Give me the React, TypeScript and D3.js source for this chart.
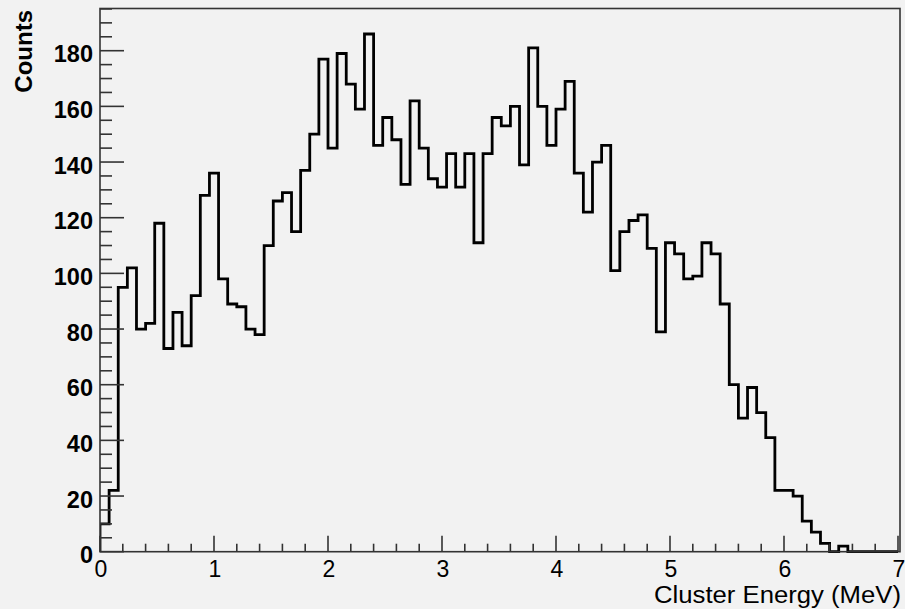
import React from "react";
import * as d3 from "d3";

// ---- data ----
const binWidth = 0.08; // MeV
const counts = [
  10, 22, 95, 102, 80, 82, 118, 73, 86, 74,
  92, 128, 136, 98, 89, 88, 80, 78, 110, 126,
  129, 115, 137, 150, 177, 145, 179, 168, 159, 186,
  146, 156, 148, 132, 162, 145, 134, 131, 143, 131,
  143, 111, 143, 156, 153, 160, 139, 181, 160, 146,
  159, 169, 136, 122, 140, 146, 101, 115, 119, 121,
  109, 79, 111, 107, 98, 99, 111, 107, 89, 60,
  48, 59, 50, 41, 22, 22, 20, 11, 7, 3,
  0, 2, 0, 0, 0, 0, 0, 0,
];
const xMajorTicks = [0, 1, 2, 3, 4, 5, 6, 7];
const yMajorTicks = [0, 20, 40, 60, 80, 100, 120, 140, 160, 180];
const xTitle = "Cluster Energy (MeV)";
const yTitle = "Counts";

const W = 905;
const H = 609;
const FONT = "'Liberation Sans', Arial, Helvetica, sans-serif";

export default function App() {
  const x = d3.scaleLinear().domain([0, 7]).range([100, 898]);
  const y = d3.scaleLinear().domain([0, 180]).range([551.7, 50.7]);
  const yTop = y.invert(8.5);
  const frameL = x(0);
  const frameR = 900;
  const frameT = y(yTop);
  const frameB = y(0);

  const xMinor = d3.range(0, 7.0001, 0.2).filter((v) => Math.abs(v - Math.round(v)) > 1e-6);
  const yMinor = d3.range(0, yTop, 5).filter((v) => v % 20 !== 0);

  // step outline points
  const pts: [number, number][] = [[0, 0]];
  counts.forEach((c, i) => {
    const x0 = i * binWidth;
    pts.push([x0, c]);
    pts.push([Math.min((i + 1) * binWidth, 7), c]);
  });
  pts.push([Math.min(counts.length * binWidth, 7), 0]);
  const line = d3
    .line<[number, number]>()
    .x((d) => x(Math.min(d[0], 7)))
    .y((d) => y(d[1]));

  return (
    <svg
      width={W}
      height={H}
      style={{ position: "absolute", left: 0, top: 0, background: "#f2f2f2" }}
    >
      <rect x={0} y={0} width={W} height={H} fill="#f2f2f2" />
      <defs>
        <clipPath id="plotclip">
          <rect x={frameL} y={frameT} width={frameR - frameL} height={frameB - frameT + 2} />
        </clipPath>
      </defs>
      {/* histogram */}
      <path
        d={line(pts) || ""}
        fill="none"
        stroke="#000"
        strokeWidth={2.8}
        strokeLinejoin="miter"
        clipPath="url(#plotclip)"
      />
      {/* frame */}
      <rect
        x={frameL}
        y={frameT}
        width={frameR - frameL}
        height={frameB - frameT}
        fill="none"
        stroke="#333"
        strokeWidth={1.6}
      />
      {/* x ticks */}
      {xMajorTicks.map((t) => (
        <line key={"xM" + t} x1={x(t)} x2={x(t)} y1={frameB} y2={frameB - 16} stroke="#333" strokeWidth={1.6} />
      ))}
      {xMinor.map((t, i) => (
        <line key={"xm" + i} x1={x(t)} x2={x(t)} y1={frameB} y2={frameB - 8} stroke="#333" strokeWidth={1.6} />
      ))}
      {/* y ticks */}
      {yMajorTicks.map((t) => (
        <line key={"yM" + t} x1={frameL} x2={frameL + 24} y1={y(t)} y2={y(t)} stroke="#333" strokeWidth={1.6} />
      ))}
      {yMinor.map((t, i) => (
        <line key={"ym" + i} x1={frameL} x2={frameL + 12} y1={y(t)} y2={y(t)} stroke="#333" strokeWidth={1.6} />
      ))}
      {/* x labels */}
      {xMajorTicks.map((t) => (
        <text
          key={"xl" + t}
          x={x(t) + 1}
          y={577}
          textAnchor="middle"
          fontFamily={FONT}
          fontSize={23}
          fill="#000"
        >
          {t}
        </text>
      ))}
      {/* y labels */}
      {yMajorTicks.map((t) => (
        <text
          key={"yl" + t}
          x={93}
          y={y(t) + 11.5}
          textAnchor="end"
          fontFamily={FONT}
          fontWeight="bold"
          fontSize={23.5}
          fill="#000"
        >
          {t}
        </text>
      ))}
      {/* titles */}
      <text
        x={901}
        y={603}
        textAnchor="end"
        fontFamily={FONT}
        fontSize={23}
        textLength={247}
        lengthAdjust="spacingAndGlyphs"
        fill="#000"
      >
        {xTitle}
      </text>
      <text
        transform={`translate(32,10) rotate(-90)`}
        textAnchor="end"
        fontFamily={FONT}
        fontWeight="bold"
        fontSize={24}
        fill="#000"
      >
        {yTitle}
      </text>
    </svg>
  );
}
